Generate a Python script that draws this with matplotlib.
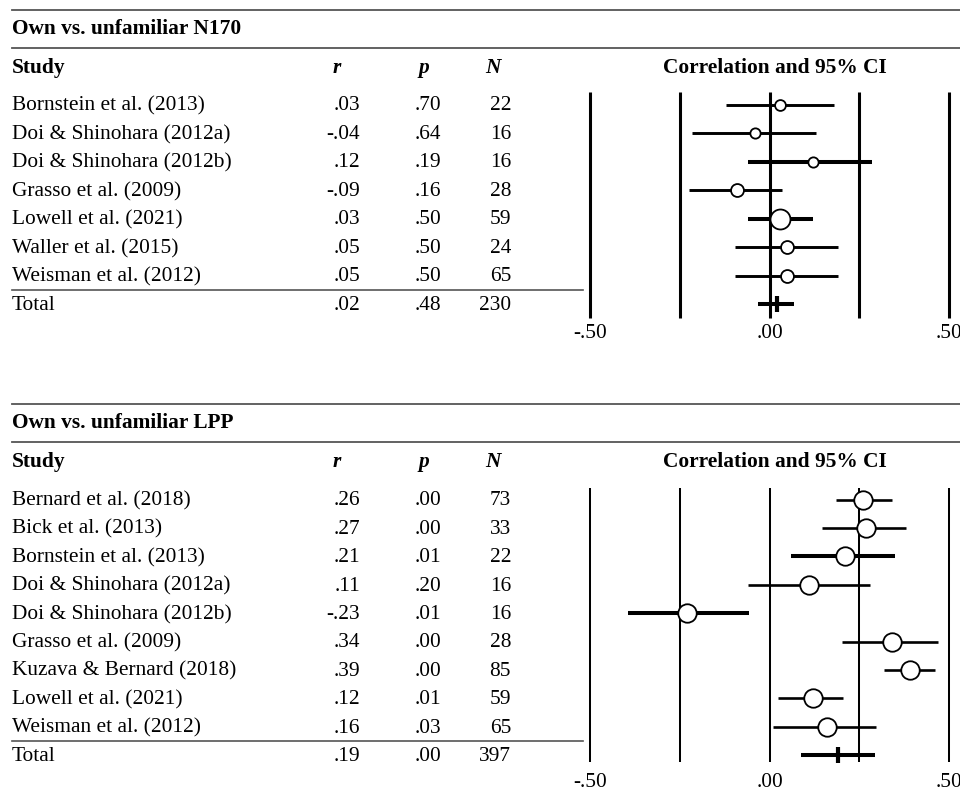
import matplotlib
matplotlib.use("Agg")
import matplotlib.pyplot as plt
from matplotlib.lines import Line2D
import matplotlib.transforms as mtransforms

plt.rcParams['font.family'] = ['Liberation Serif', 'DejaVu Serif']

# ---------------- data ----------------
n170_title = "Own vs. unfamiliar N170"
n170_studies = ["Bornstein et al. (2013)", "Doi & Shinohara (2012a)", "Doi & Shinohara (2012b)",
                "Grasso et al. (2009)", "Lowell et al. (2021)", "Waller et al. (2015)",
                "Weisman et al. (2012)"]
n170_r = [0.03, -0.04, 0.12, -0.09, 0.03, 0.05, 0.05]
n170_p = [0.70, 0.64, 0.19, 0.16, 0.50, 0.50, 0.50]
n170_N = [22, 16, 16, 28, 59, 24, 65]
n170_lo = [-0.12, -0.215, -0.06, -0.225, -0.06, -0.095, -0.095]
n170_hi = [0.18, 0.13, 0.285, 0.035, 0.12, 0.19, 0.19]
n170_total = dict(r=0.02, p=0.48, N=230, lo=-0.033, hi=0.068)

lpp_title = "Own vs. unfamiliar LPP"
lpp_studies = ["Bernard et al. (2018)", "Bick et al. (2013)", "Bornstein et al. (2013)",
               "Doi & Shinohara (2012a)", "Doi & Shinohara (2012b)", "Grasso et al. (2009)",
               "Kuzava & Bernard (2018)", "Lowell et al. (2021)", "Weisman et al. (2012)"]
lpp_r = [0.26, 0.27, 0.21, 0.11, -0.23, 0.34, 0.39, 0.12, 0.16]
lpp_p = [0.00, 0.00, 0.01, 0.20, 0.01, 0.00, 0.00, 0.01, 0.03]
lpp_N = [73, 33, 22, 16, 16, 28, 85, 59, 65]
lpp_lo = [0.184, 0.147, 0.061, -0.061, -0.393, 0.201, 0.318, 0.025, 0.011]
lpp_hi = [0.341, 0.379, 0.349, 0.280, -0.056, 0.470, 0.460, 0.206, 0.297]
lpp_total = dict(r=0.19, p=0.00, N=397, lo=0.087, hi=0.294)

grid_ticks = [-0.50, -0.25, 0.00, 0.25, 0.50]
tick_labels = ["-.50", ".00", ".50"]
tick_label_pos = [-0.50, 0.00, 0.50]

# ---------------- style ----------------
n170_msize = [7.8, 7.4, 7.4, 9.3, 14.4, 9.3, 9.3]
n170_thick = [False, False, True, False, True, False, False]
lpp_msize = [13.3] * 9
lpp_thick = [False, False, True, False, True, False, False, False, False]

W, H = 960, 793
fig = plt.figure(figsize=(W / 100, H / 100), dpi=100)

FS = 15.4
RULE_C = '#555555'
TXT_OFF = 0.05  # small downward shift of table text (rows)


def fx(px):
    return px / W


def fy(py):
    return 1 - py / H


def fmt(v):
    s = f"{v:.2f}"
    return s.replace("0.", ".", 1)


def hrule(y, x0=12, x1=960, lw=1.3):
    fig.add_artist(Line2D([fx(x0), fx(x1)], [fy(y), fy(y)], transform=fig.transFigure,
                          color=RULE_C, lw=lw))


def panel(top_rule, title, studies, r, p, N, lo, hi, total, msize, thick,
          row0, pitch, vline_top, vline_bot, label_row, grid_lw, lw_norm, lw_thick, tot_thick):
    n = len(studies)
    # rules and headings
    hrule(top_rule)
    fig.text(fx(12), fy(top_rule + 19), title, fontsize=FS, fontweight='bold', va='center')
    hrule(top_rule + 38)
    hy = top_rule + 58
    fig.text(fx(12), fy(hy), "Study", fontsize=FS, fontweight='bold', va='center')
    fig.text(fx(337), fy(hy), "r", fontsize=FS, fontweight='bold', style='italic', va='center', ha='center')
    fig.text(fx(424), fy(hy), "p", fontsize=FS, fontweight='bold', style='italic', va='center', ha='center')
    fig.text(fx(493), fy(hy), "N", fontsize=FS, fontweight='bold', style='italic', va='center', ha='center')
    fig.text(fx(775), fy(hy), "Correlation and 95% CI", fontsize=FS, fontweight='bold',
             va='center', ha='center')

    # forest axes: x in correlation units, y in row units
    px_per_unit = 358.5
    x_left_px, x_right_px = 560, 960
    xmin = -0.5 - (590 - x_left_px) / px_per_unit
    xmax = 0.5 + (x_right_px - 949) / px_per_unit
    ytop_row, ybot_row = -1.0, label_row + 0.8
    top_px = row0 + ytop_row * pitch
    bot_px = row0 + ybot_row * pitch
    ax = fig.add_axes([fx(x_left_px), fy(bot_px), fx(x_right_px - x_left_px), (bot_px - top_px) / H])
    ax.set_xlim(xmin, xmax)
    ax.set_ylim(ybot_row, ytop_row)
    ax.axis('off')

    for t in grid_ticks:
        ax.plot([t, t], [vline_top, vline_bot], color='black', lw=grid_lw,
                solid_capstyle='butt', zorder=1, clip_on=False)
    for t, lab in zip(tick_label_pos, tick_labels):
        ax.text(t, label_row, lab, fontsize=FS, ha='center', va='center', clip_on=False)

    rows = list(range(n))
    for i in rows:
        ax.plot([lo[i], hi[i]], [i, i], color='black',
                lw=lw_thick if thick[i] else lw_norm, solid_capstyle='butt', zorder=2)
        ax.plot(r[i], i, marker='o', ms=msize[i], mfc='white', mec='black', mew=1.3, zorder=3)
    ti = n
    ax.plot([total['lo'], total['hi']], [ti, ti], color='black', lw=tot_thick,
            solid_capstyle='butt', zorder=2)
    ax.plot(total['r'], ti, marker='|', ms=11.5, mew=3, color='black', zorder=3)

    # table text (x in figure px, y in rows)
    tr = mtransforms.blended_transform_factory(fig.transFigure, ax.transData)
    for i in rows:
        y = i + TXT_OFF
        ax.text(fx(12), y, studies[i], transform=tr, fontsize=FS, va='center', ha='left')
        ax.text(fx(360), y, fmt(r[i]), transform=tr, fontsize=FS, va='center', ha='right')
        ax.text(fx(441), y, fmt(p[i]), transform=tr, fontsize=FS, va='center', ha='right')
        ax.text(fx(511), y, str(N[i]), transform=tr, fontsize=FS, va='center', ha='right')
    y = ti + TXT_OFF
    ax.text(fx(12), y, "Total", transform=tr, fontsize=FS, va='center', ha='left')
    ax.text(fx(360), y, fmt(total['r']), transform=tr, fontsize=FS, va='center', ha='right')
    ax.text(fx(441), y, fmt(total['p']), transform=tr, fontsize=FS, va='center', ha='right')
    ax.text(fx(511), y, str(total['N']), transform=tr, fontsize=FS, va='center', ha='right')
    # rule above total
    rule_y = row0 + (n - 0.5) * pitch
    hrule(rule_y, 12, 583, lw=1.2)


panel(10, n170_title, n170_studies, n170_r, n170_p, n170_N, n170_lo, n170_hi, n170_total,
      n170_msize, n170_thick, row0=104.5, pitch=28.5, vline_top=-0.43, vline_bot=7.48,
      label_row=8.05, grid_lw=2.2, lw_norm=2.1, lw_thick=2.9, tot_thick=2.9)
panel(404, lpp_title, lpp_studies, lpp_r, lpp_p, lpp_N, lpp_lo, lpp_hi, lpp_total,
      lpp_msize, lpp_thick, row0=499.5, pitch=28.4, vline_top=-0.4, vline_bot=9.25,
      label_row=9.98, grid_lw=1.45, lw_norm=1.9, lw_thick=2.9, tot_thick=2.9)

fig.savefig("out.png", dpi=100)
